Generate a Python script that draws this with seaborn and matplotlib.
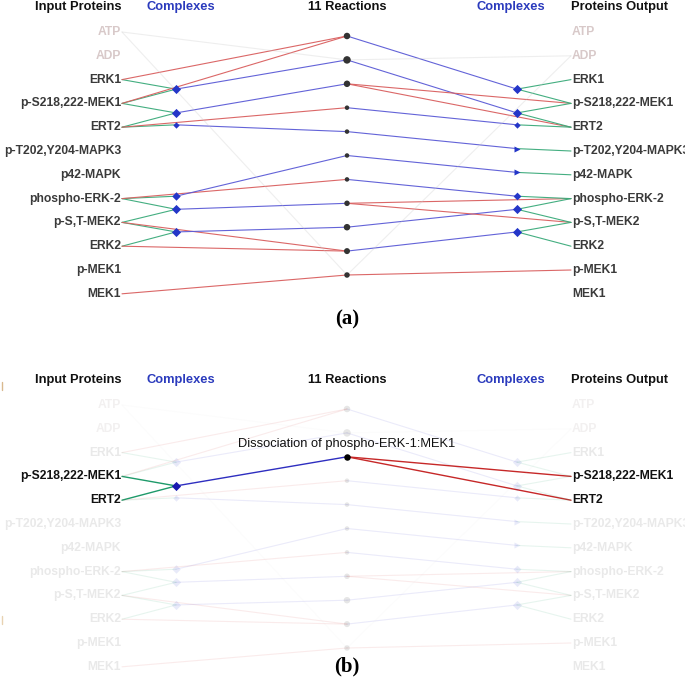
import numpy as np
import pandas as pd
import matplotlib.pyplot as plt
import seaborn as sns

sns.set_theme(style="white")
plt.rcParams['font.family'] = ['Liberation Sans', 'DejaVu Sans']

# proteins listed on both sides (row order)
proteins = ["ATP", "ADP", "ERK1", "p-S218,222-MEK1", "ERT2", "p-T202,Y204-MAPK3",
            "p42-MAPK", "phospho-ERK-2", "p-S,T-MEK2", "ERK2", "p-MEK1", "MEK1"]
small_molecules = ["ATP", "ADP"]

# 11 reactions, dot diameter (px)
reaction_dot = [6.5, 7.5, 6.5, 4.5, 4.5, 4.5, 4.5, 5.5, 6.5, 6.0, 5.5]

# complexes (row position in protein-row units)
left_cplx_row = [2.4, 3.4, 3.9, 6.9, 7.45, 8.4]
left_cplx_marker = ["D", "D", "D", "D", "D", "D"]
left_cplx_size = [6.5, 6.5, 4.5, 6.0, 6.5, 6.5]
right_cplx_row = [2.4, 3.4, 3.9, 4.9, 5.9, 6.9, 7.45, 8.4]
right_cplx_marker = ["D", "D", "D", ">", ">", "D", "D", "D"]
right_cplx_size = [6.5, 6.5, 4.5, 6.0, 6.0, 5.5, 6.5, 6.5]

# edges
in_to_cplx = [(2, 0), (3, 0), (3, 1), (4, 1), (4, 2), (7, 3), (7, 4), (8, 4), (8, 5), (9, 5)]
in_to_rx = [(2, 0), (3, 0), (4, 3), (7, 6), (8, 9), (9, 9), (11, 10)]
cplx_to_rx = [(0, 1), (1, 2), (2, 4), (3, 5), (4, 7), (5, 8)]
rx_to_cplx = [(0, 0), (1, 1), (3, 2), (4, 3), (5, 4), (6, 5), (8, 6), (9, 7)]
rx_to_out = [(2, 3), (2, 4), (7, 7), (7, 8), (10, 10)]
cplx_to_out = [(0, 2), (0, 3), (1, 3), (1, 4), (2, 4), (3, 5), (4, 6), (5, 7), (6, 7), (6, 8), (7, 8), (7, 9)]
faint_in_rx = [(0, 1), (0, 10)]
faint_rx_out = [(1, 1), (10, 1)]

focus_reaction = 2
focus_label = "Dissociation of phospho-ERK-1:MEK1"

RED, BLUE, GREEN, GREY = "#d95f5f", "#5b5bd6", "#3aaa7a", "#c8c8c8"
CPLX = "#2436c8"
X_IN, X_LC, X_RX, X_RC, X_OUT = 122, 176, 347, 517, 571
ROW = 23.8
FS = 8.7


def draw_panel(ax, top, focus=None):
    ry = lambda i: top + ROW * i
    xy = lambda j: top + 4 + 23.9 * j

    # which elements stay lit in the focused view
    lit_lc = {c for c, r in cplx_to_rx if r == focus}
    lit_in = {p for p, c in in_to_cplx if c in lit_lc} | {p for p, r in in_to_rx if r == focus}
    lit_out = {p for r, p in rx_to_out if r == focus}
    lit_rc = {c for r, c in rx_to_cplx if r == focus}

    segs = []
    for p, c in in_to_cplx:
        segs.append((X_IN, ry(p), X_LC, ry(left_cplx_row[c]), GREEN, c in lit_lc))
    for p, r in in_to_rx:
        segs.append((X_IN, ry(p), X_RX, xy(r), RED, r == focus))
    for c, r in cplx_to_rx:
        segs.append((X_LC, ry(left_cplx_row[c]), X_RX, xy(r), BLUE, r == focus))
    for r, c in rx_to_cplx:
        segs.append((X_RX, xy(r), X_RC, ry(right_cplx_row[c]), BLUE, r == focus))
    for r, p in rx_to_out:
        segs.append((X_RX, xy(r), X_OUT, ry(p), RED, r == focus))
    for c, p in cplx_to_out:
        segs.append((X_RC, ry(right_cplx_row[c]), X_OUT, ry(p), GREEN, c in lit_rc))
    for p, r in faint_in_rx:
        segs.append((X_IN, ry(p), X_RX, xy(r), GREY, False))
    for r, p in faint_rx_out:
        segs.append((X_RX, xy(r), X_OUT, ry(p), GREY, False))

    for x0, y0, x1, y1, col, on in segs:
        if focus is None:
            a = 0.3 if col == GREY else 0.95
            lw = 0.8
        else:
            a = 1.0 if on else (0.05 if col == GREY else 0.12)
            lw = 1.0 if on else 0.8
        c = col
        if focus is not None and on:
            c = {RED: "#c62828", BLUE: "#2e2ec0", GREEN: "#1e9a6a"}.get(col, col)
        ax.plot([x0, x1], [y0, y1], color=c, lw=lw, alpha=a, solid_capstyle="round", zorder=1)

    # reaction nodes
    rx = pd.DataFrame({"x": X_RX, "y": [xy(j) for j in range(len(reaction_dot))],
                       "d": reaction_dot})
    rx["lit"] = [focus is None or j == focus for j in range(len(rx))]
    for lit, grp in rx.groupby("lit"):
        sns.scatterplot(data=grp, x="x", y="y", s=(grp["d"] * 0.72) ** 2,
                        color="#000000" if (lit and focus is not None) else "#333333",
                        alpha=1.0 if lit else 0.12, linewidth=0, ax=ax, legend=False, zorder=3)

    # complex nodes
    for xc, rows, marks, sizes, lit_set in [(X_LC, left_cplx_row, left_cplx_marker, left_cplx_size, lit_lc),
                                            (X_RC, right_cplx_row, right_cplx_marker, right_cplx_size, lit_rc)]:
        for k, (rw, m, sz) in enumerate(zip(rows, marks, sizes)):
            lit = focus is None or k in lit_set
            sns.scatterplot(x=[xc], y=[ry(rw)], marker=m, s=(sz * 0.72) ** 2,
                            color="#1a1ab0" if (lit and focus is not None) else CPLX,
                            alpha=1.0 if lit else 0.1, linewidth=0, ax=ax, legend=False, zorder=3)

    # protein labels
    for i, name in enumerate(proteins):
        for side, x, ha, lit_set in [("in", X_IN - 1, "right", lit_in), ("out", X_OUT + 1, "left", lit_out)]:
            if focus is None:
                col = "#d8c9c9" if name in small_molecules else "#3a3a3a"
            else:
                col = "#111111" if i in lit_set else ("#f2f0f0" if name in small_molecules else "#e9e9e9")
            ax.text(x, ry(i), name, ha=ha, va="center", fontsize=FS, fontweight="bold", color=col)

    # headers
    hy = top - 25
    ax.text(X_IN, hy, "Input Proteins", ha="right", va="center", fontsize=9.3, fontweight="bold", color="#111111")
    ax.text(181, hy, "Complexes", ha="center", va="center", fontsize=9.3, fontweight="bold", color="#2b3bbd")
    ax.text(X_RX, hy, "11 Reactions", ha="center", va="center", fontsize=9.3, fontweight="bold", color="#111111")
    ax.text(511, hy, "Complexes", ha="center", va="center", fontsize=9.3, fontweight="bold", color="#2b3bbd")
    ax.text(X_OUT, hy, "Proteins Output", ha="left", va="center", fontsize=9.3, fontweight="bold", color="#111111")

    if focus is not None:
        ax.text(X_RX, xy(focus) - 7, focus_label, ha="center", va="bottom", fontsize=9.3, color="#111111")


fig = plt.figure(figsize=(6.85, 6.88), dpi=100)
ax = fig.add_axes([0, 0, 1, 1])
ax.set_xlim(0, 685)
ax.set_ylim(688, 0)
ax.axis("off")

draw_panel(ax, 32)
draw_panel(ax, 405, focus=focus_reaction)

ax.text(347, 319, "(a)", ha="center", va="center", fontsize=15, fontweight="bold",
        family="Liberation Serif", color="#000000")
ax.text(347, 666, "(b)", ha="center", va="center", fontsize=15, fontweight="bold",
        family="Liberation Serif", color="#000000")
# small scan marks at the left edge
ax.plot([2, 2], [382, 390], color="#d9b98f", lw=1)
ax.plot([2, 2], [616, 624], color="#e8d2b2", lw=1)

fig.savefig("out.png", dpi=100)
